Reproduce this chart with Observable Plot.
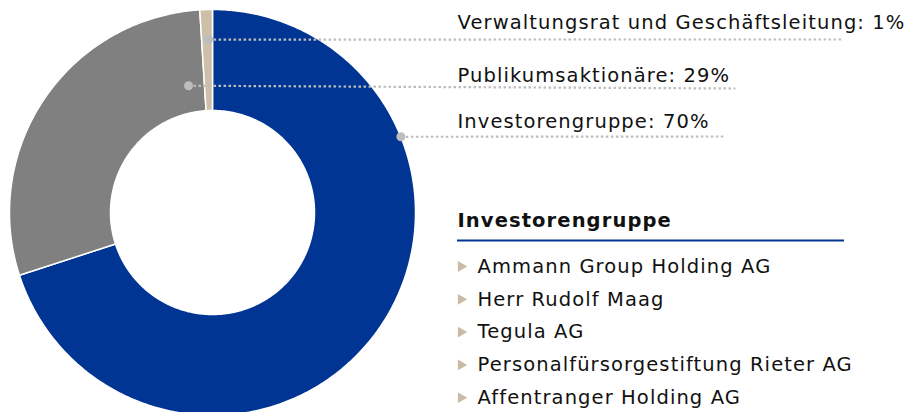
<!DOCTYPE html>
<html>
<head>
<meta charset="utf-8">
<script src="https://cdn.jsdelivr.net/npm/d3@7"></script>
<script src="https://cdn.jsdelivr.net/npm/@observablehq/plot@0.6"></script>
<style>
  html, body { margin: 0; padding: 0; background: #fff; }
  #chart { width: 909px; height: 412px; }
</style>
</head>
<body>
<div id="chart"></div>
<script>
// ---- data ----
const categories = ["Investorengruppe", "Publikumsaktionäre", "Verwaltungsrat und Geschäftsleitung"];
const shares = [70, 29, 1];
const sliceColors = ["#003594", "#808080", "#cdbfa8"];
const investors = [
  "Ammann Group Holding AG",
  "Herr Rudolf Maag",
  "Tegula AG",
  "Personalfürsorgestiftung Rieter AG",
  "Affentranger Holding AG"
];
const listTitle = "Investorengruppe";

// ---- layout ----
const W = 909, H = 412;
const cx = 212, cy = 212, rOuter = 203, rInner = 102;
const font = "DejaVu Sans, Verdana, sans-serif";

const pie = d3.pie().sort(null).startAngle(0).endAngle(2 * Math.PI)(shares);
const pt = (a, r) => ({x: cx + r * Math.sin(a), y: cy - r * Math.cos(a)});

const polys = [];
pie.forEach((p, i) => {
  const n = Math.max(4, Math.ceil((p.endAngle - p.startAngle) / 0.01));
  for (let k = 0; k <= n; k++) {
    const a = p.startAngle + (p.endAngle - p.startAngle) * k / n;
    polys.push({...pt(a, rOuter), i});
  }
  for (let k = n; k >= 0; k--) {
    const a = p.startAngle + (p.endAngle - p.startAngle) * k / n;
    polys.push({...pt(a, rInner), i});
  }
});

// label rows (slice order); leader anchor on each slice
const rowLineY = [136, 88, 39];
const rowBaseline = [127, 81, 28];
const anchorAngle = [68.1, 349.3, 358.7].map(d => d * Math.PI / 180);
const anchorR = [203, 129, 173];
const lineEnd = [725, 735, 842];
const leaders = categories.map((c, i) => {
  const a = pt(anchorAngle[i], anchorR[i]);
  return {x1: a.x, y1: a.y, x2: lineEnd[i], y2: rowLineY[i], yt: rowBaseline[i],
          label: `${c}: ${shares[i]}%`, i};
});

const listX = 457;
const listItems = investors.map((name, k) => ({name, y: 266 + k * 32.8}));

const chart = Plot.plot({
  width: W, height: H,
  margin: 0,
  x: {domain: [0, W], range: [0, W], axis: null},
  y: {domain: [0, H], range: [0, H], axis: null},
  style: {fontFamily: font, background: "#fff", letterSpacing: "1.1px"},
  marks: [
    Plot.line(polys, {x: "x", y: "y", z: "i", fill: d => sliceColors[d.i],
      stroke: "#fff", strokeWidth: 1.5, curve: "linear-closed"}),
    Plot.link(leaders, {x1: "x1", y1: "y1", x2: "x2", y2: "y2",
      stroke: "#bdbdbd", strokeWidth: 2.2, strokeDasharray: "2.5,2.5"}),
    Plot.dot(leaders, {x: "x1", y: "y1", r: 4.5, fill: "#bdbdbd", stroke: null}),
    Plot.text(leaders, {x: listX, y: "yt", text: "label", textAnchor: "start",
      lineAnchor: "bottom", fontSize: 19.5, fill: "#111"}),
    Plot.text([listTitle], {x: listX, y: 226, text: d => d, textAnchor: "start",
      lineAnchor: "bottom", fontSize: 19.5, fontWeight: "bold", fill: "#111"}),
    Plot.ruleY([240], {x1: listX, x2: 844, stroke: "#003594", strokeWidth: 2}),
    Plot.dot(listItems, {x: 460.5, y: "y", symbol: "triangle", rotate: 90, r: 4,
      fill: "#c9bca6", stroke: null}),
    Plot.text(listItems, {x: 477, y: "y", text: "name", textAnchor: "start",
      fontSize: 19.5, fill: "#111"})
  ]
});
document.getElementById("chart").appendChild(chart);
</script>
</body>
</html>
